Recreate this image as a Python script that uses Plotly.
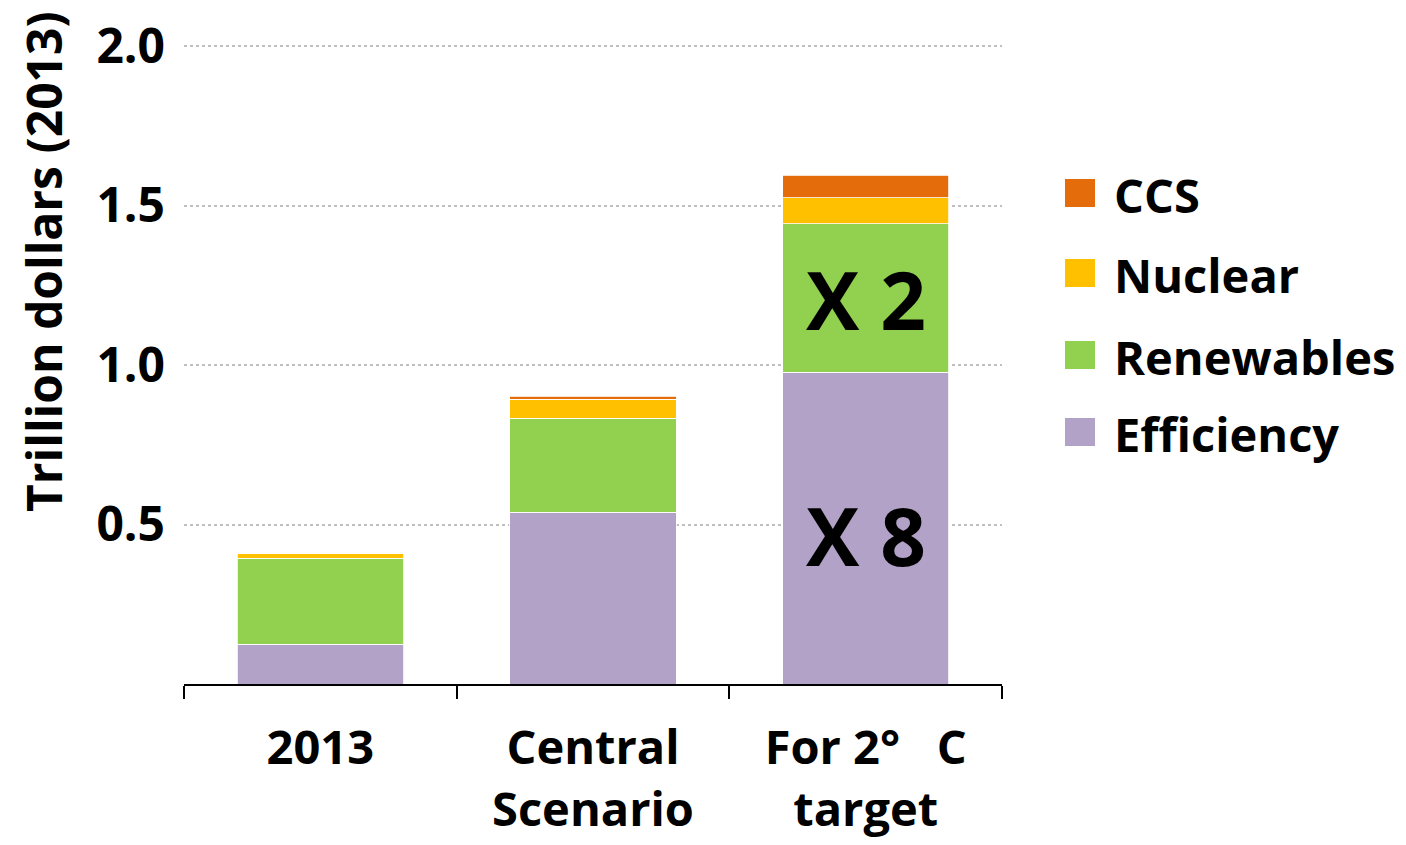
import plotly.graph_objects as go

categories = ["2013", "Central<br>Scenario", "For 2°\u00a0\u00a0\u00a0C<br>target"]
series_names = ["Efficiency", "Renewables", "Nuclear", "CCS"]
efficiency = [0.125, 0.538, 0.977]
renewables = [0.269, 0.295, 0.466]
nuclear = [0.016, 0.060, 0.081]
ccs = [0.0, 0.009, 0.072]
colors = ["#B3A2C7", "#92D050", "#FFC000", "#E46C0A"]
y_ticks = [0.5, 1.0, 1.5, 2.0]
y_title = "Trillion dollars (2013)"

FONT = "Open Sans"
W, H = 1406, 845
OFF = 8  # page body margin
L, R, T, B = 176, 412, 35, 169
PW, PH = W - L - R, H - T - B

values = [efficiency, renewables, nuclear, ccs]

fig = go.Figure()
for name, vals, col in zip(series_names, values, colors):
    fig.add_trace(go.Bar(
        x=categories, y=vals, name=name,
        marker=dict(color=col, line=dict(color="white", width=0.8)),
        showlegend=False,
    ))

# multiplier labels inside the last bar
fig.add_annotation(x=categories[2], y=efficiency[2] + renewables[2] / 2, text="X 2",
                   showarrow=False, xref="x", yref="y",
                   font=dict(family=FONT, size=80, color="black", weight="bold"))
fig.add_annotation(x=categories[2], y=efficiency[2] / 2 - 0.02, text="X 8",
                   showarrow=False, xref="x", yref="y",
                   font=dict(family=FONT, size=80, color="black", weight="bold"))


def px_x(p):
    return (p - OFF - L) / PW


def px_y(p):
    return (H - B - (p - OFF)) / PH


# custom legend (large squares)
legend_centers = [193, 273, 355, 432]
for (name, col), cy in zip(list(zip(series_names, colors))[::-1], legend_centers):
    fig.add_shape(type="rect", xref="paper", yref="paper",
                  x0=px_x(1065), x1=px_x(1095), y0=px_y(cy + 14), y1=px_y(cy - 14),
                  fillcolor=col, line=dict(width=0))
    fig.add_annotation(x=px_x(1112), y=px_y(cy + 2), xref="paper", yref="paper",
                       text=name, showarrow=False, xanchor="left", yanchor="middle",
                       font=dict(family=FONT, size=47, color="black", weight="bold"))

# y-axis title
fig.add_annotation(x=px_x(44), y=px_y(262), xref="paper", yref="paper",
                   text=y_title, textangle=-90, showarrow=False,
                   xanchor="center", yanchor="middle",
                   font=dict(family=FONT, size=48, color="black", weight="bold"))

fig.update_layout(
    width=W, height=H,
    margin=dict(l=L, r=R, t=T, b=B, autoexpand=False),
    paper_bgcolor="white", plot_bgcolor="white",
    barmode="stack", bargap=0.39,
    font=dict(family=FONT, color="black"),
)
fig.update_xaxes(
    type="category",
    tickson="boundaries", ticks="outside", ticklen=13, tickwidth=2, tickcolor="black",
    showline=True, linecolor="black", linewidth=2, showgrid=False,
    tickfont=dict(family=FONT, size=47, color="black", weight="bold"),
    ticklabelstandoff=22, automargin=False,
)
fig.update_yaxes(
    range=[0, 2.01], tickmode="array", tickvals=y_ticks, tickformat=".1f",
    showline=False, zeroline=False, ticks="",
    showgrid=True, gridcolor="#BFBFBF", gridwidth=2, griddash="dot",
    tickfont=dict(family=FONT, size=48, color="black", weight="bold"),
    ticklabelstandoff=18, automargin=False,
)

fig.write_html("out.html")
